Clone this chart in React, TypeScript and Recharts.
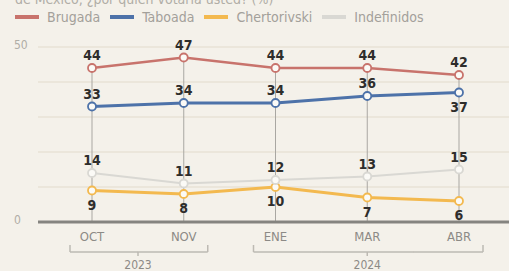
import { LineChart, Line, XAxis, YAxis, CartesianGrid, LabelList, ReferenceLine } from "recharts";

const months = ["OCT", "NOV", "ENE", "MAR", "ABR"];
const brugada = [44, 47, 44, 44, 42];
const taboada = [33, 34, 34, 36, 37];
const chertorivski = [9, 8, 10, 7, 6];
const indefinidos = [14, 11, 12, 13, 15];
const yearGroups = [
  { year: "2023", months: ["OCT", "NOV"] },
  { year: "2024", months: ["ENE", "MAR", "ABR"] },
];
const yTicks = [0, 10, 20, 30, 40, 50];

const data = months.map((m, i) => ({
  month: m,
  brugada: brugada[i],
  taboada: taboada[i],
  chertorivski: chertorivski[i],
  indefinidos: indefinidos[i],
}));

const series = [
  { key: "brugada", name: "Brugada", color: "#c8736c", width: 2.5, below: [] as number[] },
  { key: "taboada", name: "Taboada", color: "#4d72a9", width: 3, below: [4] },
  { key: "chertorivski", name: "Chertorivski", color: "#f3b94f", width: 3, below: [0, 1, 2, 3, 4] },
  { key: "indefinidos", name: "Indefinidos", color: "#d9d8d3", width: 2, below: [] as number[] },
];

const FONT = '"DejaVu Sans Condensed", "DejaVu Sans", sans-serif';
const STEP = 92;

function MonthTick(props: any) {
  const { x, y, payload } = props;
  const m = payload.value;
  const group = yearGroups.find((g) => g.months.includes(m))!;
  const n = group.months.length;
  const idx = group.months.indexOf(m);
  const first = idx === 0;
  const last = idx === n - 1;
  const x1 = first ? x - 22 : x - STEP / 2;
  const x2 = last ? x + 24 : x + STEP / 2;
  const by = y + 22;
  const mid = n % 2 === 1 ? idx === (n - 1) / 2 : idx === n / 2 - 1;
  const cx = n % 2 === 1 ? x : x + STEP / 2;
  return (
    <g>
      <text x={x} y={y + 11} textAnchor="middle" fill="#8c8a86" fontSize={13} fontFamily={FONT}>
        {m}
      </text>
      <line x1={x1} x2={x2} y1={by} y2={by} stroke="#bdbab3" strokeWidth={1.5} />
      {first && <line x1={x1} x2={x1} y1={by} y2={by - 7} stroke="#bdbab3" strokeWidth={1.5} />}
      {last && <line x1={x2} x2={x2} y1={by} y2={by - 7} stroke="#bdbab3" strokeWidth={1.5} />}
      {mid && (
        <g>
          <line x1={cx} x2={cx} y1={by} y2={by + 4} stroke="#bdbab3" strokeWidth={1.5} />
          <text x={cx} y={by + 17} textAnchor="middle" fill="#8c8a86" fontSize={12} fontFamily={FONT}>
            {group.year}
          </text>
        </g>
      )}
    </g>
  );
}

function YTick(props: any) {
  const { y, payload } = props;
  if (payload.value !== 0 && payload.value !== 50) return null;
  return (
    <text x={14} y={y + 2} fill="#b0ada6" fontSize={12} fontFamily={FONT}>
      {payload.value}
    </text>
  );
}

function makeLabel(below: number[]) {
  return (props: any) => {
    const { x, y, value, index } = props;
    const isBelow = below.includes(index);
    return (
      <text
        x={x}
        y={isBelow ? y + 19 : y - 8}
        textAnchor="middle"
        fill="#2e2d2b"
        fontSize={14}
        fontWeight="bold"
        fontFamily={FONT}
      >
        {value}
      </text>
    );
  };
}

export default function App() {
  return (
    <div style={{ position: "relative", width: 509, height: 271, background: "#f4f1ea", overflow: "hidden" }}>
      <style>{"body{margin:0}"}</style>
      <div
        style={{
          position: "absolute",
          left: 15,
          top: -9,
          fontFamily: FONT,
          fontSize: 14,
          color: "#b0ada6",
          whiteSpace: "nowrap",
        }}
      >
        de México, ¿por quién votaría usted? (%)
      </div>
      <div
        style={{
          position: "absolute",
          left: 15,
          top: 9,
          display: "flex",
          alignItems: "center",
          fontFamily: FONT,
          fontSize: 14,
          color: "#a3a09a",
        }}
      >
        {series.map((s) => (
          <div key={s.key} style={{ display: "flex", alignItems: "center", marginRight: 10 }}>
            <span style={{ display: "inline-block", width: 24, height: 4, background: s.color, marginRight: 8 }} />
            <span>{s.name}</span>
          </div>
        ))}
      </div>
      <LineChart width={509} height={271} data={data} margin={{ top: 47, right: 0, bottom: 0, left: 0 }}>
        <CartesianGrid vertical={false} stroke="#e9e2d6" strokeWidth={1.5} />
        <XAxis
          dataKey="month"
          interval={0}
          padding={{ left: 54, right: 50 }}
          axisLine={{ stroke: "#858480", strokeWidth: 3 }}
          tickLine={false}
          height={49}
          tick={<MonthTick />}
        />
        <YAxis
          domain={[0, 50]}
          ticks={yTicks}
          width={38}
          axisLine={false}
          tickLine={false}
          tick={<YTick />}
        />
        {months.map((m, i) => (
          <ReferenceLine
            key={m}
            segment={[
              { x: m, y: 0 },
              { x: m, y: brugada[i] },
            ]}
            stroke="#a9a7a2"
            strokeWidth={1}
          />
        ))}
        {series.map((s) => (
          <Line
            key={s.key}
            dataKey={s.key}
            name={s.name}
            type="linear"
            stroke={s.color}
            strokeWidth={s.width}
            dot={{ r: 4, fill: "#fbfaf6", stroke: s.color, strokeWidth: 1.8 }}
            isAnimationActive={false}
          >
            <LabelList dataKey={s.key} content={makeLabel(s.below)} />
          </Line>
        ))}
      </LineChart>
    </div>
  );
}
